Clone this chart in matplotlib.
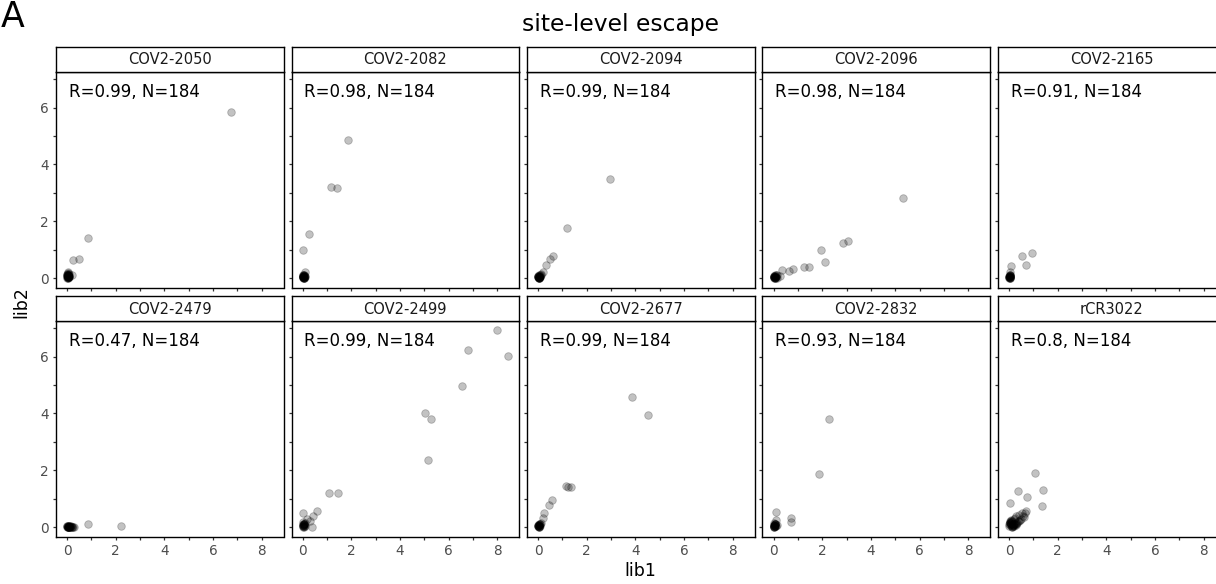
import matplotlib
matplotlib.use("Agg")
import matplotlib.pyplot as plt
from matplotlib.ticker import FixedLocator

plt.rcParams["font.family"] = ["DejaVu Sans"]

# antibodies shown in the facet grid (row-major order)
antibodies = ["COV2-2050", "COV2-2082", "COV2-2094", "COV2-2096", "COV2-2165",
              "COV2-2479", "COV2-2499", "COV2-2677", "COV2-2832", "rCR3022"]
corr_r = ["0.99", "0.98", "0.99", "0.98", "0.91",
          "0.47", "0.99", "0.99", "0.93", "0.8"]
n_sites = [184] * 10

# site-level escape, library 1 (x) and library 2 (y)
lib1_2050 = [6.72, 0.84, 0.48, 0.25, 0.18, 0.02, 0.03, 0.05, 0.04, 0.06, 0.00, 0.01,
             0.02, 0.05, 0.07, 0.03, 0.01, 0.04, 0.08, 0.02, 0.00, 0.03, 0.06, 0.01,
             0.02, 0.04, 0.05, 0.01, 0.03, 0.06, 0.02, 0.04]
lib2_2050 = [5.85, 1.42, 0.68, 0.62, 0.10, 0.00, 0.05, 0.12, 0.18, 0.08, 0.02, 0.15,
             0.20, 0.03, 0.06, 0.10, 0.00, 0.14, 0.04, 0.07, 0.11, 0.01, 0.16, 0.09,
             0.04, 0.02, 0.08, 0.06, 0.12, 0.03, 0.10, 0.05]

lib1_2082 = [1.88, 1.17, 1.43, 0.28, 0.00, 0.10, 0.02, 0.05, 0.04, 0.06, 0.00, 0.08,
             0.03, 0.07, 0.01, 0.05, 0.09, 0.02, 0.04, 0.06, 0.03, 0.01, 0.02, 0.05,
             0.04, 0.03, 0.06, 0.01]
lib2_2082 = [4.85, 3.21, 3.16, 1.54, 1.00, 0.22, 0.00, 0.05, 0.10, 0.02, 0.08, 0.04,
             0.12, 0.06, 0.03, 0.00, 0.07, 0.09, 0.01, 0.11, 0.05, 0.02, 0.04, 0.01,
             0.06, 0.03, 0.00, 0.08]

lib1_2094 = [2.97, 1.19, 0.63, 0.48, 0.32, 0.20, 0.12, 0.08, 0.02, 0.04, 0.00, 0.06,
             0.03, 0.05, 0.01, 0.07, 0.02, 0.04, 0.00, 0.03, 0.06, 0.10, 0.01, 0.03,
             0.05, 0.02, 0.04, 0.00]
lib2_2094 = [3.47, 1.77, 0.79, 0.67, 0.45, 0.22, 0.15, 0.10, 0.00, 0.05, 0.03, 0.08,
             0.01, 0.04, 0.06, 0.02, 0.09, 0.00, 0.07, 0.03, 0.05, 0.12, 0.02, 0.06,
             0.01, 0.04, 0.00, 0.03]

lib1_2096 = [5.32, 3.04, 2.85, 1.96, 2.12, 1.44, 1.26, 0.81, 0.62, 0.36, 0.26, 0.15,
             0.10, 0.05, 0.02, 0.00, 0.04, 0.08, 0.03, 0.06, 0.01, 0.12, 0.07, 0.02,
             0.04, 0.09, 0.01, 0.05, 0.03, 0.06]
lib2_2096 = [2.81, 1.29, 1.25, 0.99, 0.55, 0.38, 0.39, 0.33, 0.24, 0.27, 0.06, 0.12,
             0.05, 0.00, 0.03, 0.08, 0.02, 0.10, 0.01, 0.06, 0.04, 0.00, 0.09, 0.07,
             0.02, 0.04, 0.05, 0.01, 0.03, 0.00]

lib1_2165 = [0.95, 0.53, 0.69, 0.06, 0.03, 0.02, 0.00, 0.04, 0.01, 0.03, 0.05, 0.02,
             0.00, 0.04, 0.01, 0.03, 0.02, 0.05, 0.01, 0.03, 0.02, 0.04]
lib2_2165 = [0.87, 0.79, 0.46, 0.44, 0.20, 0.00, 0.05, 0.10, 0.02, 0.08, 0.04, 0.12,
             0.06, 0.03, 0.00, 0.07, 0.09, 0.01, 0.04, 0.02, 0.06, 0.00]

lib1_2479 = [0.85, 2.21, 0.30, 0.22, 0.15, 0.10, 0.05, 0.00, 0.02, 0.08, 0.12, 0.03,
             0.06, 0.18, 0.01, 0.04, 0.09, 0.14, 0.07, 0.20, 0.02, 0.05, 0.11, 0.00,
             0.08, 0.03]
lib2_2479 = [0.12, 0.02, 0.00, 0.01, 0.02, 0.00, 0.01, 0.02, 0.00, 0.01, 0.03, 0.00,
             0.02, 0.01, 0.00, 0.03, 0.01, 0.00, 0.02, 0.01, 0.00, 0.02, 0.01, 0.03,
             0.00, 0.01]

lib1_2499 = [7.99, 6.81, 8.44, 6.55, 5.03, 5.28, 5.14, 1.07, 1.45, 0.59, 0.00, 0.44,
             0.16, 0.30, 0.39, 0.02, 0.05, 0.00, 0.04, 0.08, 0.03, 0.06, 0.01, 0.10,
             0.02, 0.05, 0.03, 0.01, 0.04, 0.06]
lib2_2499 = [6.94, 6.23, 6.02, 4.97, 4.01, 3.81, 2.37, 1.20, 1.21, 0.57, 0.50, 0.39,
             0.27, 0.21, 0.01, 0.00, 0.08, 0.12, 0.05, 0.15, 0.03, 0.10, 0.06, 0.02,
             0.18, 0.09, 0.04, 0.07, 0.00, 0.11]

lib1_2677 = [3.86, 4.52, 1.14, 1.36, 1.24, 0.55, 0.44, 0.22, 0.20, 0.12, 0.08, 0.02,
             0.04, 0.00, 0.06, 0.03, 0.01, 0.05, 0.02, 0.07, 0.00, 0.04, 0.03, 0.01,
             0.05, 0.02]
lib2_2677 = [4.57, 3.94, 1.43, 1.42, 1.42, 0.96, 0.79, 0.48, 0.32, 0.13, 0.10, 0.00,
             0.05, 0.08, 0.02, 0.11, 0.04, 0.06, 0.01, 0.09, 0.03, 0.07, 0.00, 0.05,
             0.02, 0.06]

lib1_2832 = [2.29, 1.85, 0.71, 0.70, 0.10, 0.10, 0.05, 0.02, 0.00, 0.04, 0.08, 0.03,
             0.06, 0.01, 0.12, 0.02, 0.07, 0.00, 0.05, 0.03, 0.02, 0.04, 0.01, 0.06]
lib2_2832 = [3.81, 1.87, 0.32, 0.17, 0.52, 0.25, 0.10, 0.00, 0.05, 0.12, 0.02, 0.08,
             0.04, 0.14, 0.06, 0.01, 0.09, 0.03, 0.11, 0.07, 0.00, 0.05, 0.02, 0.03]

lib1_3022 = [1.08, 0.36, 1.39, 0.73, 0.04, 1.34, 0.70, 0.65, 0.52, 0.42, 0.30, 0.60,
             0.48, 0.25, 0.35, 0.18, 0.10, 0.05, 0.00, 0.15, 0.22, 0.08, 0.30, 0.12,
             0.02, 0.40, 0.20, 0.06, 0.28, 0.14, 0.03, 0.10, 0.45, 0.55, 0.18, 0.08,
             0.05, 0.12, 0.20, 0.02, 0.09, 0.16, 0.26, 0.04, 0.11, 0.07, 0.33, 0.01]
lib2_3022 = [1.90, 1.28, 1.30, 1.04, 0.84, 0.74, 0.55, 0.50, 0.48, 0.42, 0.40, 0.35,
             0.30, 0.32, 0.22, 0.28, 0.20, 0.15, 0.10, 0.05, 0.12, 0.25, 0.08, 0.00,
             0.18, 0.20, 0.03, 0.22, 0.14, 0.06, 0.16, 0.02, 0.25, 0.38, 0.10, 0.12,
             0.08, 0.04, 0.10, 0.14, 0.18, 0.06, 0.12, 0.20, 0.00, 0.09, 0.15, 0.03]

lib1_all = [lib1_2050, lib1_2082, lib1_2094, lib1_2096, lib1_2165,
            lib1_2479, lib1_2499, lib1_2677, lib1_2832, lib1_3022]
lib2_all = [lib2_2050, lib2_2082, lib2_2094, lib2_2096, lib2_2165,
            lib2_2479, lib2_2499, lib2_2677, lib2_2832, lib2_3022]

W, H = 1216, 584
fig = plt.figure(figsize=(W / 100, H / 100), dpi=100)
fig.patch.set_facecolor("white")

col_left = [56, 291.5, 527, 762.5, 998]
panel_w = 227.5
rows = [(47, 72, 288), (296, 321, 537)]  # strip top, panel top, panel bottom


def fx(px):
    return px / W


def fy(py):
    return 1 - py / H


for i, ab in enumerate(antibodies):
    r, c = divmod(i, 5)
    s_top, p_top, p_bot = rows[r]
    left = col_left[c]
    ax = fig.add_axes([fx(left), fy(p_bot), panel_w / W, (p_bot - p_top) / H])
    ax.scatter(lib1_all[i], lib2_all[i], s=30, facecolor="black", edgecolor="black",
               linewidths=0.6, alpha=0.24, zorder=3)
    ax.set_xlim(-0.46, 8.9)
    ax.set_ylim(-0.35, 7.25)
    ax.xaxis.set_major_locator(FixedLocator([0, 2, 4, 6, 8]))
    ax.xaxis.set_minor_locator(FixedLocator([1, 3, 5, 7]))
    ax.yaxis.set_major_locator(FixedLocator([0, 2, 4, 6]))
    ax.yaxis.set_minor_locator(FixedLocator([1, 3, 5, 7]))
    for spine in ax.spines.values():
        spine.set_color("black")
        spine.set_linewidth(1.0)
    ax.tick_params(which="both", direction="out", length=2.5, width=0.9,
                   color="#333333", labelcolor="#4d4d4d", labelsize=9.8, pad=2.5)
    if r == 0:
        ax.set_xticklabels([])
    if c != 0:
        ax.set_yticklabels([])
    ax.text(0.055, 0.95, f"R={corr_r[i]}, N={n_sites[i]}", transform=ax.transAxes,
            ha="left", va="top", fontsize=12, color="black")

    sax = fig.add_axes([fx(left), fy(p_top), panel_w / W, (p_top - s_top) / H])
    sax.set_xticks([])
    sax.set_yticks([])
    for spine in sax.spines.values():
        spine.set_color("black")
        spine.set_linewidth(1.0)
    sax.text(0.5, 0.48, ab, transform=sax.transAxes, ha="center", va="center",
             fontsize=10.5, color="#1a1a1a")

fig.text(fx(621), fy(24), "site-level escape", ha="center", va="center", fontsize=16.8)
fig.text(fx(640), fy(571), "lib1", ha="center", va="center", fontsize=12.5)
fig.text(fx(21), fy(302), "lib2", ha="center", va="center", rotation=90, fontsize=12.5)
fig.text(fx(1), fy(17), "A", ha="left", va="center", fontsize=25)

fig.savefig("out.png", dpi=100)
